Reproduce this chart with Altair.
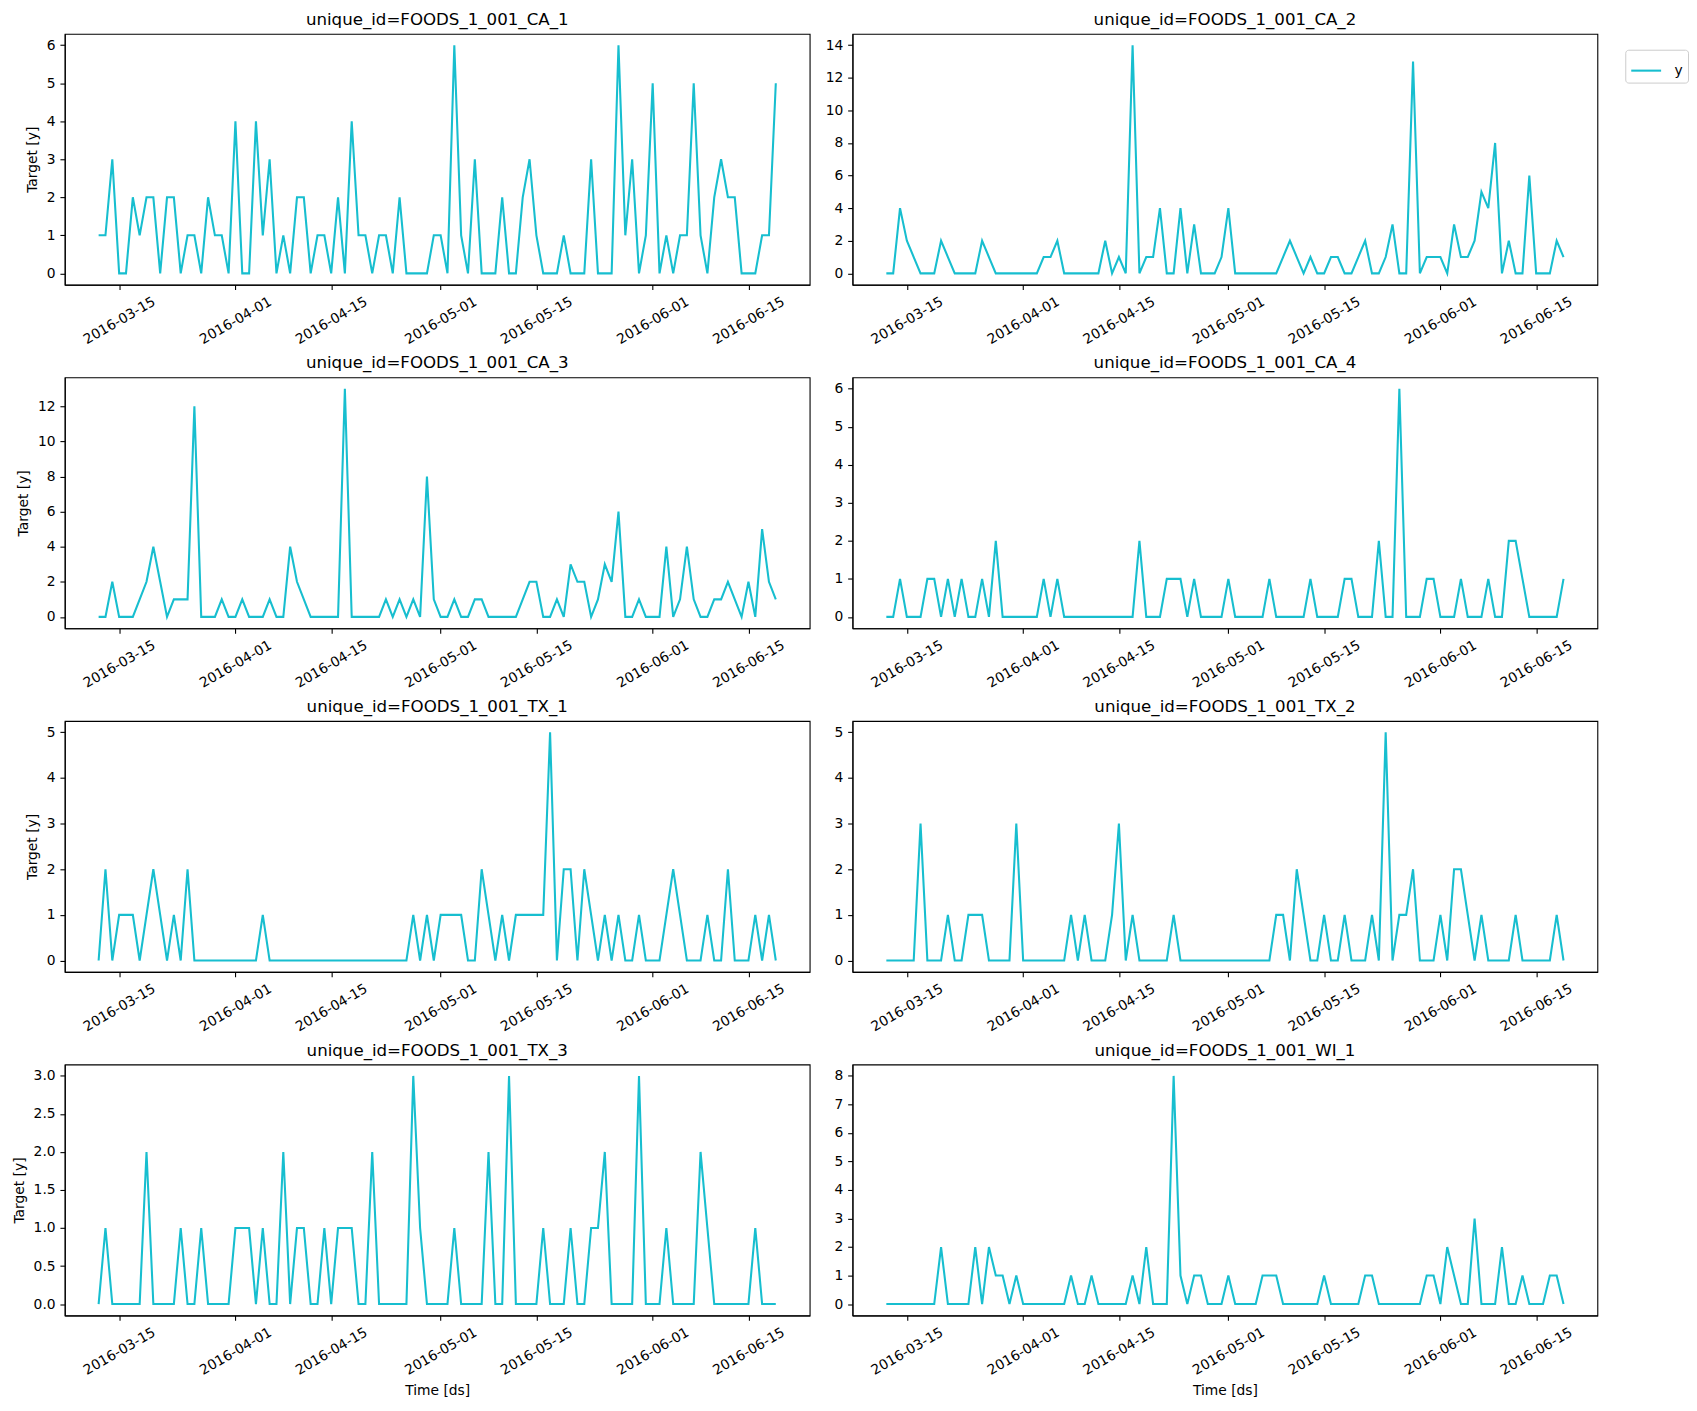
import altair as alt
import pandas as pd

# ---------------- data ----------------
START_DATE = "2016-03-12"
N_DAYS = 100

IDS = [
    "FOODS_1_001_CA_1", "FOODS_1_001_CA_2",
    "FOODS_1_001_CA_3", "FOODS_1_001_CA_4",
    "FOODS_1_001_TX_1", "FOODS_1_001_TX_2",
    "FOODS_1_001_TX_3", "FOODS_1_001_WI_1",
]

Y_CA_1 = [1, 1, 3, 0, 0, 2, 1, 2, 2, 0, 2, 2, 0, 1, 1, 0, 2, 1, 1, 0,
          4, 0, 0, 4, 1, 3, 0, 1, 0, 2, 2, 0, 1, 1, 0, 2, 0, 4, 1, 1,
          0, 1, 1, 0, 2, 0, 0, 0, 0, 1, 1, 0, 6, 1, 0, 3, 0, 0, 0, 2,
          0, 0, 2, 3, 1, 0, 0, 0, 1, 0, 0, 0, 3, 0, 0, 0, 6, 1, 3, 0,
          1, 5, 0, 1, 0, 1, 1, 5, 1, 0, 2, 3, 2, 2, 0, 0, 0, 1, 1, 5]
Y_CA_2 = [0, 0, 4, 2, 1, 0, 0, 0, 2, 1, 0, 0, 0, 0, 2, 1, 0, 0, 0, 0,
          0, 0, 0, 1, 1, 2, 0, 0, 0, 0, 0, 0, 2, 0, 1, 0, 14, 0, 1, 1,
          4, 0, 0, 4, 0, 3, 0, 0, 0, 1, 4, 0, 0, 0, 0, 0, 0, 0, 1, 2,
          1, 0, 1, 0, 0, 1, 1, 0, 0, 1, 2, 0, 0, 1, 3, 0, 0, 13, 0, 1,
          1, 1, 0, 3, 1, 1, 2, 5, 4, 8, 0, 2, 0, 0, 6, 0, 0, 0, 2, 1]
Y_CA_3 = [0, 0, 2, 0, 0, 0, 1, 2, 4, 2, 0, 1, 1, 1, 12, 0, 0, 0, 1, 0,
          0, 1, 0, 0, 0, 1, 0, 0, 4, 2, 1, 0, 0, 0, 0, 0, 13, 0, 0, 0,
          0, 0, 1, 0, 1, 0, 1, 0, 8, 1, 0, 0, 1, 0, 0, 1, 1, 0, 0, 0,
          0, 0, 1, 2, 2, 0, 0, 1, 0, 3, 2, 2, 0, 1, 3, 2, 6, 0, 0, 1,
          0, 0, 0, 4, 0, 1, 4, 1, 0, 0, 1, 1, 2, 1, 0, 2, 0, 5, 2, 1]
Y_CA_4 = [0, 0, 1, 0, 0, 0, 1, 1, 0, 1, 0, 1, 0, 0, 1, 0, 2, 0, 0, 0,
          0, 0, 0, 1, 0, 1, 0, 0, 0, 0, 0, 0, 0, 0, 0, 0, 0, 2, 0, 0,
          0, 1, 1, 1, 0, 1, 0, 0, 0, 0, 1, 0, 0, 0, 0, 0, 1, 0, 0, 0,
          0, 0, 1, 0, 0, 0, 0, 1, 1, 0, 0, 0, 2, 0, 0, 6, 0, 0, 0, 1,
          1, 0, 0, 0, 1, 0, 0, 0, 1, 0, 0, 2, 2, 1, 0, 0, 0, 0, 0, 1]
Y_TX_1 = [0, 2, 0, 1, 1, 1, 0, 1, 2, 1, 0, 1, 0, 2, 0, 0, 0, 0, 0, 0,
          0, 0, 0, 0, 1, 0, 0, 0, 0, 0, 0, 0, 0, 0, 0, 0, 0, 0, 0, 0,
          0, 0, 0, 0, 0, 0, 1, 0, 1, 0, 1, 1, 1, 1, 0, 0, 2, 1, 0, 1,
          0, 1, 1, 1, 1, 1, 5, 0, 2, 2, 0, 2, 1, 0, 1, 0, 1, 0, 0, 1,
          0, 0, 0, 1, 2, 1, 0, 0, 0, 1, 0, 0, 2, 0, 0, 0, 1, 0, 1, 0]
Y_TX_2 = [0, 0, 0, 0, 0, 3, 0, 0, 0, 1, 0, 0, 1, 1, 1, 0, 0, 0, 0, 3,
          0, 0, 0, 0, 0, 0, 0, 1, 0, 1, 0, 0, 0, 1, 3, 0, 1, 0, 0, 0,
          0, 0, 1, 0, 0, 0, 0, 0, 0, 0, 0, 0, 0, 0, 0, 0, 0, 1, 1, 0,
          2, 1, 0, 0, 1, 0, 0, 1, 0, 0, 0, 1, 0, 5, 0, 1, 1, 2, 0, 0,
          0, 1, 0, 2, 2, 1, 0, 1, 0, 0, 0, 0, 1, 0, 0, 0, 0, 0, 1, 0]
Y_TX_3 = [0, 1, 0, 0, 0, 0, 0, 2, 0, 0, 0, 0, 1, 0, 0, 1, 0, 0, 0, 0,
          1, 1, 1, 0, 1, 0, 0, 2, 0, 1, 1, 0, 0, 1, 0, 1, 1, 1, 0, 0,
          2, 0, 0, 0, 0, 0, 3, 1, 0, 0, 0, 0, 1, 0, 0, 0, 0, 2, 0, 0,
          3, 0, 0, 0, 0, 1, 0, 0, 0, 1, 0, 0, 1, 1, 2, 0, 0, 0, 0, 3,
          0, 0, 0, 1, 0, 0, 0, 0, 2, 1, 0, 0, 0, 0, 0, 0, 1, 0, 0, 0]
Y_WI_1 = [0, 0, 0, 0, 0, 0, 0, 0, 2, 0, 0, 0, 0, 2, 0, 2, 1, 1, 0, 1,
          0, 0, 0, 0, 0, 0, 0, 1, 0, 0, 1, 0, 0, 0, 0, 0, 1, 0, 2, 0,
          0, 0, 8, 1, 0, 1, 1, 0, 0, 0, 1, 0, 0, 0, 0, 1, 1, 1, 0, 0,
          0, 0, 0, 0, 1, 0, 0, 0, 0, 0, 1, 1, 0, 0, 0, 0, 0, 0, 0, 1,
          1, 0, 2, 1, 0, 0, 3, 0, 0, 0, 2, 0, 0, 1, 0, 0, 0, 1, 1, 0]

SERIES = [Y_CA_1, Y_CA_2, Y_CA_3, Y_CA_4, Y_TX_1, Y_TX_2, Y_TX_3, Y_WI_1]

Y_TICKS = [
    [0, 1, 2, 3, 4, 5, 6],
    [0, 2, 4, 6, 8, 10, 12, 14],
    [0, 2, 4, 6, 8, 10, 12],
    [0, 1, 2, 3, 4, 5, 6],
    [0, 1, 2, 3, 4, 5],
    [0, 1, 2, 3, 4, 5],
    [0.0, 0.5, 1.0, 1.5, 2.0, 2.5, 3.0],
    [0, 1, 2, 3, 4, 5, 6, 7, 8],
]

X_TICK_DATES = ["2016-03-15", "2016-04-01", "2016-04-15", "2016-05-01",
                "2016-05-15", "2016-06-01", "2016-06-15"]

LINE_COLOR = "#17becf"
FONT = "DejaVu Sans"

# ---------------- helpers ----------------
DAY_MS = 86400000


def to_ms(s):
    return int(pd.Timestamp(s, tz="UTC").value // 10**6)


t0 = to_ms(START_DATE)
ds_ms = [t0 + i * DAY_MS for i in range(N_DAYS)]
span = ds_ms[-1] - ds_ms[0]
x_domain = [ds_ms[0] - 0.05 * span, ds_ms[-1] + 0.05 * span]
x_ticks = [to_ms(d) for d in X_TICK_DATES]

PW, PH = 748, 252


def panel(idx):
    uid = IDS[idx]
    vals = SERIES[idx]
    row, col = idx // 2, idx % 2
    df = pd.DataFrame({"ds": ds_ms, "y": vals, "series": ["y"] * N_DAYS})
    ymax = max(vals)
    y_dom = [-0.05 * ymax, 1.05 * ymax]

    x_axis = alt.Axis(
        values=x_ticks,
        labelExpr="utcFormat(datum.value, '%Y-%m-%d')",
        labelAngle=330,
        labelAlign="center",
        labelBaseline="middle",
        labelPadding=31,
        labelOverlap=False,
        labelFlush=False,
        labelBound=False,
        titlePadding=6,
        title="Time [ds]" if row == 3 else None,
    )
    y_axis = alt.Axis(
        values=Y_TICKS[idx],
        format=".1f" if idx == 6 else "d",
        labelPadding=4.86,
        titlePadding=7,
        title="Target [y]" if col == 0 else None,
    )
    line = (
        alt.Chart(df)
        .mark_line(strokeWidth=2.08)
        .encode(
            x=alt.X("ds:T", axis=x_axis,
                    scale=alt.Scale(type="utc", domain=x_domain, nice=False)),
            y=alt.Y("y:Q", axis=y_axis,
                    scale=alt.Scale(domain=y_dom, nice=False, zero=False)),
            color=alt.Color(
                "series:N",
                scale=alt.Scale(domain=["y"], range=[LINE_COLOR]),
                legend=alt.Legend(title=None),
            ),
        )
    )
    title_df = pd.DataFrame({"t": [f"unique_id={uid}"]})
    title = (
        alt.Chart(title_df)
        .mark_text(font=FONT, fontSize=16.7, color="black", align="center",
                   baseline="alphabetic")
        .encode(text="t:N", x=alt.value(PW / 2), y=alt.value(-9))
    )
    return alt.layer(line, title).properties(width=PW, height=PH)


charts = [panel(i) for i in range(8)]

chart = (
    alt.concat(*charts, columns=2, spacing={"row": 93, "column": 43},
               bounds="flush")
    .resolve_scale(color="shared")
    .properties(
        background="white",
        padding={"left": 3, "top": 0, "right": 0, "bottom": 0},
    )
    .configure_view(stroke="black", strokeWidth=1.1)
    .configure_axis(
        grid=False,
        domainColor="black",
        domainWidth=1.1,
        tickColor="black",
        tickWidth=1.1,
        tickSize=4.86,
        labelFont=FONT,
        labelFontSize=13.9,
        labelColor="black",
        titleFont=FONT,
        titleFontSize=13.9,
        titleFontWeight="normal",
        titleColor="black",
    )
    .configure_legend(
        orient="none",
        legendX=1567,
        legendY=16,
        strokeColor="#cccccc",
        fillColor="white",
        cornerRadius=3,
        padding=4.5,
        labelFont=FONT,
        labelFontSize=13.9,
        labelColor="black",
        labelOffset=12,
        symbolType="stroke",
        symbolSize=900,
        symbolStrokeWidth=2.08,
    )
)

chart.save("out.html", embed_options={"renderer": "svg", "actions": False})
